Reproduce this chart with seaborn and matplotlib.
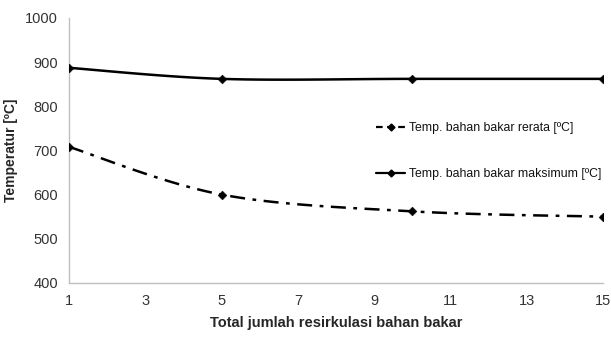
import numpy as np
import pandas as pd
import matplotlib
matplotlib.use("Agg")
import matplotlib.pyplot as plt
import seaborn as sns

x_vals = [1, 5, 10, 15]
rerata = [708, 600, 562, 550]
maksimum = [887, 862, 862, 862]
label_rerata = "Temp. bahan bakar rerata [ºC]"
label_maks = "Temp. bahan bakar maksimum [ºC]"
xticks = [1, 3, 5, 7, 9, 11, 13, 15]
yticks = [400, 500, 600, 700, 800, 900, 1000]

sns.set_theme(style="white")
plt.rcParams['font.family'] = ['Liberation Sans', 'DejaVu Sans']

def smooth(xs, ys, n=30):
    # Catmull-Rom style smoothing (Excel "smoothed line") for drawing only
    xs = np.asarray(xs, float); ys = np.asarray(ys, float)
    px = np.concatenate([[xs[0]], xs, [xs[-1]]])
    py = np.concatenate([[ys[0]], ys, [ys[-1]]])
    ox, oy = [], []
    for i in range(1, len(px) - 2):
        p0, p1, p2, p3 = [np.array([px[j], py[j]]) for j in (i - 1, i, i + 1, i + 2)]
        c1 = p1 + (p2 - p0) / 6
        c2 = p2 - (p3 - p1) / 6
        t = np.linspace(0, 1, n)[:, None]
        pts = (1 - t) ** 3 * p1 + 3 * (1 - t) ** 2 * t * c1 + 3 * (1 - t) * t ** 2 * c2 + t ** 3 * p2
        ox.extend(pts[:, 0]); oy.extend(pts[:, 1])
    return np.array(ox), np.array(oy)

fig = plt.figure(figsize=(6.11, 3.38), dpi=100)
ax = fig.add_axes([0.113, 0.163, 0.874, 0.784])

sx, sy = smooth(x_vals, rerata)
sns.lineplot(x=sx, y=sy, ax=ax, color="black", lw=1.8, sort=False,
             linestyle=(0, (6, 3, 1.5, 3)))
sx2, sy2 = smooth(x_vals, maksimum)
sns.lineplot(x=sx2, y=sy2, ax=ax, color="black", lw=1.8, sort=False)
sns.scatterplot(x=x_vals, y=rerata, ax=ax, marker="D", s=20, color="black", edgecolor="black", zorder=5)
sns.scatterplot(x=x_vals, y=maksimum, ax=ax, marker="D", s=20, color="black", edgecolor="black", zorder=5)

from matplotlib.lines import Line2D
h1 = Line2D([], [], color="black", lw=1.6, linestyle=(0, (3, 2)), marker="D", markersize=3.5)
h2 = Line2D([], [], color="black", lw=1.6, marker="D", markersize=3.5)
leg = ax.legend([h1, h2], [label_rerata, label_maks], loc="upper left",
                bbox_to_anchor=(0.575, 0.607), frameon=False, fontsize=8.8,
                labelspacing=2.8, handlelength=2.4, handletextpad=0.3,
                borderaxespad=0, borderpad=0)
for t in leg.get_texts():
    t.set_color("#111111")

ax.set_xlim(1, 15)
ax.set_ylim(400, 1000)
ax.set_xticks(xticks)
ax.set_yticks(yticks)
ax.tick_params(axis="both", labelsize=10.5, labelcolor="#333333", length=0, pad=8)
for s in ["top", "right"]:
    ax.spines[s].set_visible(False)
for s in ["left", "bottom"]:
    ax.spines[s].set_color("#bfbfbf")
    ax.spines[s].set_linewidth(1)
ax.set_xlabel("Total jumlah resirkulasi bahan bakar", fontsize=10.5, fontweight="bold", labelpad=6)
ax.set_ylabel("Temperatur [ºC]", fontsize=10, fontweight="bold", labelpad=5)

fig.savefig("out.png", dpi=100)
